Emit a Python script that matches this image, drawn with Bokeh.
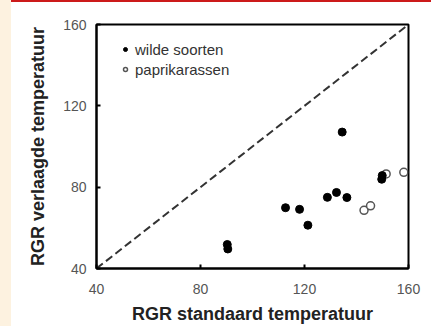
from bokeh.plotting import figure
from bokeh.models import FixedTicker, Legend, LegendItem, Range1d, Div
from bokeh.layouts import row, column
from bokeh.embed import file_html
from bokeh.resources import INLINE

# data
wild_x = [90.3, 90.5, 112.7, 118.1, 121.3, 128.8, 132.3, 134.5, 136.3, 149.9, 149.7]
wild_y = [51.8, 49.6, 69.9, 69.1, 61.3, 75.0, 77.4, 107.1, 74.9, 85.7, 83.9]
pap_x = [142.9, 145.4, 151.4, 158.2]
pap_y = [68.6, 70.8, 86.5, 87.3]
diag = [40, 160]
ticks = [40, 80, 120, 160]

p = figure(width=420, height=324, output_backend="svg", toolbar_location=None,
           x_range=Range1d(40, 160), y_range=Range1d(40, 160),
           min_border_left=85, min_border_right=23, min_border_top=22, min_border_bottom=58)
p.background_fill_color = "white"
p.border_fill_color = "white"
p.grid.visible = False
p.outline_line_color = "black"
p.outline_line_width = 2

for ax in (p.xaxis[0], p.yaxis[0]):
    ax.ticker = FixedTicker(ticks=ticks)
    ax.axis_line_width = 2
    ax.axis_line_color = "black"
    ax.major_tick_in = 4
    ax.major_tick_out = 0
    ax.major_tick_line_width = 2
    ax.minor_tick_line_color = None
    ax.major_label_text_font = "Liberation Sans"
    ax.major_label_text_font_size = "14px"
    ax.major_label_text_color = "#555555"
    ax.axis_label_text_font = "Liberation Sans"
    ax.axis_label_text_font_size = "18px"
    ax.axis_label_text_font_style = "bold"
    ax.axis_label_text_color = "#222222"

p.xaxis.axis_label = "RGR standaard temperatuur"
p.yaxis.axis_label = "RGR verlaagde temperatuur"
p.xaxis.major_label_standoff = 15
p.yaxis.major_label_standoff = 10
p.xaxis.axis_label_standoff = 7
p.yaxis.axis_label_standoff = 12

p.line(diag, diag, line_color="#333333", line_width=2, line_dash="8 4")
r_pap = p.scatter(pap_x, pap_y, size=8, marker="circle", fill_color="white",
                  line_color="#555555", line_width=1.5)
r_wild = p.scatter(wild_x, wild_y, size=8, marker="circle", fill_color="black", line_color="black")

legend = Legend(items=[LegendItem(label="wilde soorten", renderers=[r_wild]),
                       LegendItem(label="paprikarassen", renderers=[r_pap])],
                location=(24, 189), padding=0, margin=0, spacing=0,
                glyph_width=10, glyph_height=20, label_height=20, label_standoff=5,
                label_text_font="Liberation Sans", label_text_font_size="15px",
                label_text_color="#333333", border_line_color=None,
                background_fill_alpha=0)
p.add_layout(legend)

strip = Div(text="", width=11, height=326, margin=0,
            styles={"background-color": "#FDF2E0"})
topbar = Div(text="", width=420, height=2, margin=0,
             styles={"background-color": "#CC1A1A"})
layout = row(strip, column(topbar, p, spacing=0), spacing=0)

open("out.html", "w").write(file_html(layout, INLINE))
